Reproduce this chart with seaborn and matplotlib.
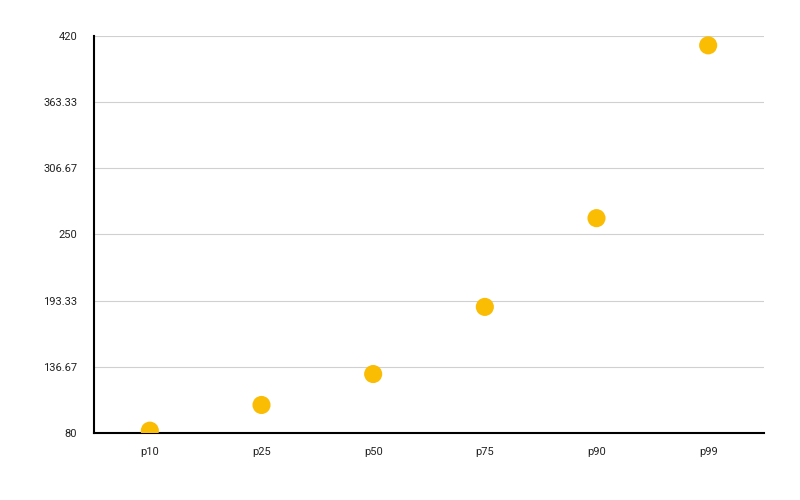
import matplotlib
matplotlib.use("Agg")
import matplotlib.pyplot as plt
import seaborn as sns
import pandas as pd

categories = ["p10", "p25", "p50", "p75", "p90", "p99"]
values = [82, 104, 130.5, 188, 264, 412]
yticks = [80, 136.67, 193.33, 250, 306.67, 363.33, 420]
ytick_labels = ["80", "136.67", "193.33", "250", "306.67", "363.33", "420"]

sns.set_style("white")
plt.rcParams['font.family'] = ['Roboto', 'DejaVu Sans']

df = pd.DataFrame({"cat": categories, "val": values})
fig = plt.figure(figsize=(8, 5), dpi=100)
ax = fig.add_axes([94/800, 1-433/500, 670/800, 397/500])
sns.scatterplot(data=df, x="cat", y="val", ax=ax, color="#FBBC04", s=170, edgecolor="none", zorder=3)
ax.set_xlim(-0.5, 5.5)
ax.set_ylim(80, 420)
ax.set_yticks(yticks)
ax.set_yticklabels(ytick_labels)
ax.yaxis.grid(True, color="#d0d0d0", linewidth=0.8)
ax.set_axisbelow(True)
for s in ["top", "right"]:
    ax.spines[s].set_visible(False)
for s in ["left", "bottom"]:
    ax.spines[s].set_color("black")
    ax.spines[s].set_linewidth(1.5)
ax.tick_params(axis="both", length=0, labelsize=8, colors="#222222", pad=12)
ax.tick_params(axis="x", pad=10)
ax.set_xlabel("")
ax.set_ylabel("")
fig.savefig("out.png", dpi=100)
